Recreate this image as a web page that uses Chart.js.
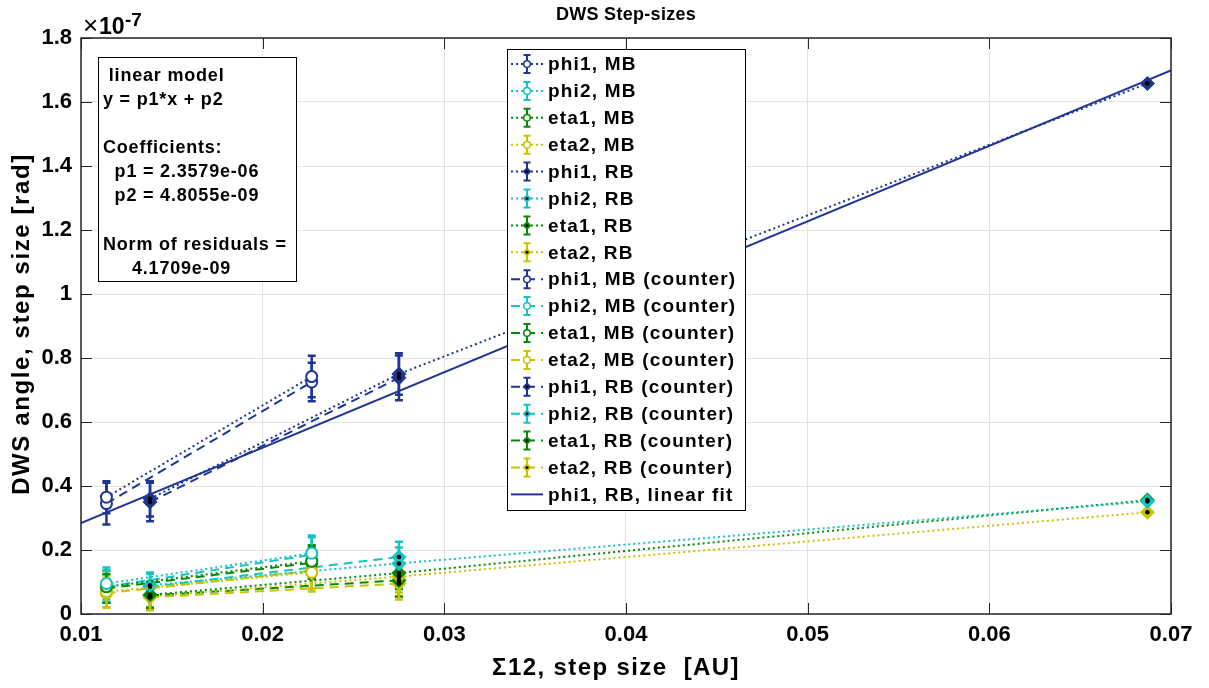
<!DOCTYPE html>
<html>
<head>
<meta charset="utf-8">
<title>DWS Step-sizes</title>
<script src="https://cdn.jsdelivr.net/npm/chart.js@4.4.1/dist/chart.umd.min.js"></script>
<style>
  html, body { margin: 0; padding: 0; background: #fff; }
</style>
</head>
<body>
<canvas id="dws" width="1209" height="688"></canvas>
<script>
// Σ12 step sizes [AU] for each measurement set
const xMB = [0.0114, 0.0227];
const xRB = [0.0138, 0.0275, 0.0687];
const xRBc = [0.0138, 0.0275];

// DWS angle step sizes in units of 1e-7 rad, with their error bars
const phi1MB = [0.365, 0.742];         const phi1MBErr = [0.05, 0.065];
const phi2MB = [0.095, 0.19];          const phi2MBErr = [0.05, 0.055];
const eta1MB = [0.085, 0.165];         const eta1MBErr = [0.05, 0.05];
const eta2MB = [0.07, 0.13];           const eta2MBErr = [0.05, 0.06];
const phi1RB = [0.36, 0.75, 1.658];    const phi1RBErr = [0.055, 0.065, 0.006];
const phi2RB = [0.09, 0.158, 0.352];   const phi2RBErr = [0.04, 0.05, 0.005];
const eta1RB = [0.06, 0.128, 0.356];   const eta1RBErr = [0.04, 0.05, 0.005];
const eta2RB = [0.055, 0.117, 0.318];  const eta2RBErr = [0.04, 0.05, 0.005];
const phi1MBc = [0.345, 0.725];        const phi1MBcErr = [0.065, 0.06];
const phi2MBc = [0.085, 0.185];        const phi2MBcErr = [0.05, 0.055];
const eta1MBc = [0.08, 0.16];          const eta1MBcErr = [0.045, 0.05];
const eta2MBc = [0.065, 0.135];        const eta2MBcErr = [0.045, 0.055];
const phi1RBc = [0.35, 0.738];         const phi1RBcErr = [0.06, 0.07];
const phi2RBc = [0.085, 0.178];        const phi2RBcErr = [0.04, 0.048];
const eta1RBc = [0.058, 0.105];        const eta1RBcErr = [0.04, 0.05];
const eta2RBc = [0.052, 0.095];        const eta2RBcErr = [0.04, 0.05];

// linear fit of phi1, RB
const p1 = 2.3579e-06;
const p2 = 4.8055e-09;
const normResid = 4.1709e-09;
const fitRange = [0.01, 0.07];
const yUnit = 1e-7;

const xTicks = [0.01, 0.02, 0.03, 0.04, 0.05, 0.06, 0.07];
const yTicks = [0, 0.2, 0.4, 0.6, 0.8, 1, 1.2, 1.4, 1.6, 1.8];

const COLORS = {
  phi1: '#1f3592',
  phi2: '#17c2c2',
  eta1: '#078a07',
  eta2: '#c8c400'
};
const DOTTED = [2, 3];
const DASHED = [9, 6];

function fmtExp(v) {
  const [m, e] = v.toExponential(4).split('e');
  const n = parseInt(e, 10);
  return m + 'e' + (n < 0 ? '-' : '+') + String(Math.abs(n)).padStart(2, '0');
}

function series(label, xs, ys, errs, color, dash, marker) {
  return {
    label: label,
    data: xs.map((x, i) => ({ x: x, y: ys[i] })),
    errors: errs,
    marker: marker,
    showLine: true,
    borderColor: color,
    borderWidth: 2,
    borderDash: dash,
    pointStyle: marker === 'circle' ? 'circle' : 'rectRot',
    pointRadius: marker === 'circle' ? 5.5 : 6.5,
    pointHoverRadius: marker === 'circle' ? 5.5 : 6.5,
    pointBorderWidth: marker === 'circle' ? 2 : 1.5,
    pointBorderColor: color,
    pointBackgroundColor: marker === 'circle' ? '#ffffff' : color
  };
}

const datasets = [
  series('phi1, MB', xMB, phi1MB, phi1MBErr, COLORS.phi1, DOTTED, 'circle'),
  series('phi2, MB', xMB, phi2MB, phi2MBErr, COLORS.phi2, DOTTED, 'circle'),
  series('eta1, MB', xMB, eta1MB, eta1MBErr, COLORS.eta1, DOTTED, 'circle'),
  series('eta2, MB', xMB, eta2MB, eta2MBErr, COLORS.eta2, DOTTED, 'circle'),
  series('phi1, RB', xRB, phi1RB, phi1RBErr, COLORS.phi1, DOTTED, 'diamond'),
  series('phi2, RB', xRB, phi2RB, phi2RBErr, COLORS.phi2, DOTTED, 'diamond'),
  series('eta1, RB', xRB, eta1RB, eta1RBErr, COLORS.eta1, DOTTED, 'diamond'),
  series('eta2, RB', xRB, eta2RB, eta2RBErr, COLORS.eta2, DOTTED, 'diamond'),
  series('phi1, MB (counter)', xMB, phi1MBc, phi1MBcErr, COLORS.phi1, DASHED, 'circle'),
  series('phi2, MB (counter)', xMB, phi2MBc, phi2MBcErr, COLORS.phi2, DASHED, 'circle'),
  series('eta1, MB (counter)', xMB, eta1MBc, eta1MBcErr, COLORS.eta1, DASHED, 'circle'),
  series('eta2, MB (counter)', xMB, eta2MBc, eta2MBcErr, COLORS.eta2, DASHED, 'circle'),
  series('phi1, RB (counter)', xRBc, phi1RBc, phi1RBcErr, COLORS.phi1, DASHED, 'diamond'),
  series('phi2, RB (counter)', xRBc, phi2RBc, phi2RBcErr, COLORS.phi2, DASHED, 'diamond'),
  series('eta1, RB (counter)', xRBc, eta1RBc, eta1RBcErr, COLORS.eta1, DASHED, 'diamond'),
  series('eta2, RB (counter)', xRBc, eta2RBc, eta2RBcErr, COLORS.eta2, DASHED, 'diamond'),
  {
    label: 'phi1, RB, linear fit',
    data: fitRange.map(x => ({ x: x, y: (p1 * x + p2) / yUnit })),
    showLine: true,
    borderColor: COLORS.phi1,
    borderWidth: 2,
    pointRadius: 0,
    pointHoverRadius: 0
  }
];

const FONT = "'Liberation Sans', Arial, Helvetica, sans-serif";

// error bars under every series, black dots inside the diamonds
const errorBars = {
  id: 'errorBars',
  beforeDatasetsDraw(chart) {
    const { ctx, scales: { x, y } } = chart;
    ctx.save();
    ctx.lineWidth = 2.5;
    ctx.setLineDash([]);
    chart.data.datasets.forEach(ds => {
      if (!ds.errors) return;
      ctx.strokeStyle = ds.borderColor;
      ds.data.forEach((p, j) => {
        const px = x.getPixelForValue(p.x);
        const top = y.getPixelForValue(p.y + ds.errors[j]);
        const bot = y.getPixelForValue(p.y - ds.errors[j]);
        ctx.beginPath();
        ctx.moveTo(px, top); ctx.lineTo(px, bot);
        ctx.moveTo(px - 4, top); ctx.lineTo(px + 4, top);
        ctx.moveTo(px - 4, bot); ctx.lineTo(px + 4, bot);
        ctx.stroke();
      });
    });
    ctx.restore();
  },
  afterDatasetsDraw(chart) {
    const { ctx } = chart;
    ctx.save();
    ctx.fillStyle = '#000';
    chart.data.datasets.forEach((ds, i) => {
      if (ds.marker !== 'diamond') return;
      chart.getDatasetMeta(i).data.forEach(pt => {
        ctx.beginPath();
        ctx.arc(pt.x, pt.y, 2.3, 0, Math.PI * 2);
        ctx.fill();
      });
    });
    ctx.restore();
  }
};

function drawLegendEntry(ctx, ds, cy) {
  const x0 = 511, x1 = 543, mx = 527;
  ctx.strokeStyle = ds.borderColor;
  ctx.lineWidth = 2;
  ctx.setLineDash(ds.borderDash || []);
  ctx.beginPath();
  ctx.moveTo(x0, cy); ctx.lineTo(x1, cy);
  ctx.stroke();
  ctx.setLineDash([]);
  if (ds.errors) {
    ctx.beginPath();
    ctx.moveTo(mx, cy - 9); ctx.lineTo(mx, cy + 9);
    ctx.moveTo(mx - 3.5, cy - 9); ctx.lineTo(mx + 3.5, cy - 9);
    ctx.moveTo(mx - 3.5, cy + 9); ctx.lineTo(mx + 3.5, cy + 9);
    ctx.stroke();
    if (ds.marker === 'circle') {
      ctx.fillStyle = '#fff';
      ctx.lineWidth = 1.5;
      ctx.beginPath();
      ctx.arc(mx, cy, 3.3, 0, Math.PI * 2);
      ctx.fill(); ctx.stroke();
    } else {
      ctx.fillStyle = ds.borderColor;
      ctx.beginPath();
      ctx.moveTo(mx - 4.5, cy); ctx.lineTo(mx, cy - 4.5);
      ctx.lineTo(mx + 4.5, cy); ctx.lineTo(mx, cy + 4.5);
      ctx.closePath(); ctx.fill();
      ctx.fillStyle = '#000';
      ctx.beginPath();
      ctx.arc(mx, cy, 1.5, 0, Math.PI * 2);
      ctx.fill();
    }
  }
  ctx.fillStyle = '#000';
  ctx.fillText(ds.label, 548, cy + 1);
}

// axes box, inward ticks, titles, fit summary and legend
const overlay = {
  id: 'overlay',
  afterDraw(chart) {
    const { ctx, chartArea: a, scales: { x, y } } = chart;
    ctx.save();

    ctx.strokeStyle = '#262626';
    ctx.lineWidth = 1;
    ctx.beginPath();
    x.ticks.forEach(t => {
      const px = Math.round(x.getPixelForValue(t.value)) + 0.5;
      ctx.moveTo(px, a.bottom); ctx.lineTo(px, a.bottom - 11);
      ctx.moveTo(px, a.top); ctx.lineTo(px, a.top + 11);
    });
    y.ticks.forEach(t => {
      const py = Math.round(y.getPixelForValue(t.value)) + 0.5;
      ctx.moveTo(a.left, py); ctx.lineTo(a.left + 11, py);
      ctx.moveTo(a.right, py); ctx.lineTo(a.right - 11, py);
    });
    ctx.stroke();
    ctx.lineWidth = 1.5;
    ctx.strokeRect(a.left, a.top, a.right - a.left, a.bottom - a.top);

    ctx.fillStyle = '#000';
    ctx.textBaseline = 'middle';

    // title
    ctx.textAlign = 'center';
    ctx.font = 'bold 18px ' + FONT;
    ctx.letterSpacing = '0.3px';
    ctx.fillText('DWS Step-sizes', (a.left + a.right) / 2, 15);

    // axis titles
    ctx.font = 'bold 24px ' + FONT;
    ctx.letterSpacing = '1.6px';
    ctx.save();
    ctx.translate(22, (a.top + a.bottom) / 2 - 2);
    ctx.rotate(-Math.PI / 2);
    ctx.fillText('DWS angle, step size [rad]', 0, 0);
    ctx.restore();
    ctx.letterSpacing = '1.4px';
    ctx.fillText('\u03A312, step size  [AU]', (a.left + a.right) / 2 - 10, 668);

    // exponent of the y axis
    ctx.textAlign = 'left';
    ctx.textBaseline = 'alphabetic';
    ctx.letterSpacing = '0px';
    ctx.font = '26px ' + FONT;
    ctx.fillText('\u00D7', 83, 34);
    ctx.font = 'bold 23px ' + FONT;
    ctx.fillText('10', 99, 34);
    ctx.font = 'bold 19px ' + FONT;
    ctx.fillText('-7', 125, 26);

    // fit summary box
    ctx.fillStyle = '#fff';
    ctx.fillRect(98.5, 57.5, 198, 224);
    ctx.strokeStyle = '#000';
    ctx.lineWidth = 1;
    ctx.strokeRect(98.5, 57.5, 198, 224);
    const fitLines = [
      ' linear model',
      'y = p1*x + p2',
      '',
      'Coefficients:',
      '  p1 = ' + fmtExp(p1),
      '  p2 = ' + fmtExp(p2),
      '',
      'Norm of residuals = ',
      '     ' + fmtExp(normResid)
    ];
    ctx.fillStyle = '#000';
    ctx.textBaseline = 'middle';
    ctx.font = 'bold 18px ' + FONT;
    ctx.letterSpacing = '0.8px';
    fitLines.forEach((s, i) => ctx.fillText(s, 103, 76 + i * 24.1));

    // legend
    ctx.fillStyle = '#fff';
    ctx.fillRect(507.5, 49.5, 238, 461);
    ctx.strokeStyle = '#000';
    ctx.lineWidth = 1;
    ctx.strokeRect(507.5, 49.5, 238, 461);
    ctx.font = 'bold 19px ' + FONT;
    ctx.letterSpacing = '1.2px';
    chart.data.datasets.forEach((ds, i) => drawLegendEntry(ctx, ds, 64 + i * 26.9));

    ctx.restore();
  }
};

new Chart(document.getElementById('dws'), {
  type: 'scatter',
  data: { datasets: datasets },
  options: {
    responsive: false,
    animation: false,
    devicePixelRatio: 1,
    layout: { padding: { top: 38, right: 38, left: 0, bottom: 0 } },
    plugins: {
      legend: { display: false },
      tooltip: { enabled: false }
    },
    scales: {
      x: {
        type: 'linear',
        min: 0.01,
        max: 0.07,
        afterFit: s => { s.height = 74; },
        afterBuildTicks: s => { s.ticks = xTicks.map(v => ({ value: v })); },
        grid: { color: '#e3e3e3', drawTicks: false },
        border: { display: false },
        ticks: {
          padding: 8,
          color: '#000',
          font: { family: FONT, size: 22, weight: 'bold' },
          callback: v => v.toFixed(2)
        }
      },
      y: {
        type: 'linear',
        min: 0,
        max: 1.8,
        afterFit: s => { s.width = 81; },
        afterBuildTicks: s => { s.ticks = yTicks.map(v => ({ value: v })); },
        grid: { color: '#e3e3e3', drawTicks: false },
        border: { display: false },
        ticks: {
          padding: 9,
          color: '#000',
          font: { family: FONT, size: 22, weight: 'bold' },
          callback: v => String(Number(v.toFixed(1)))
        }
      }
    }
  },
  plugins: [errorBars, overlay]
});
</script>
</body>
</html>
